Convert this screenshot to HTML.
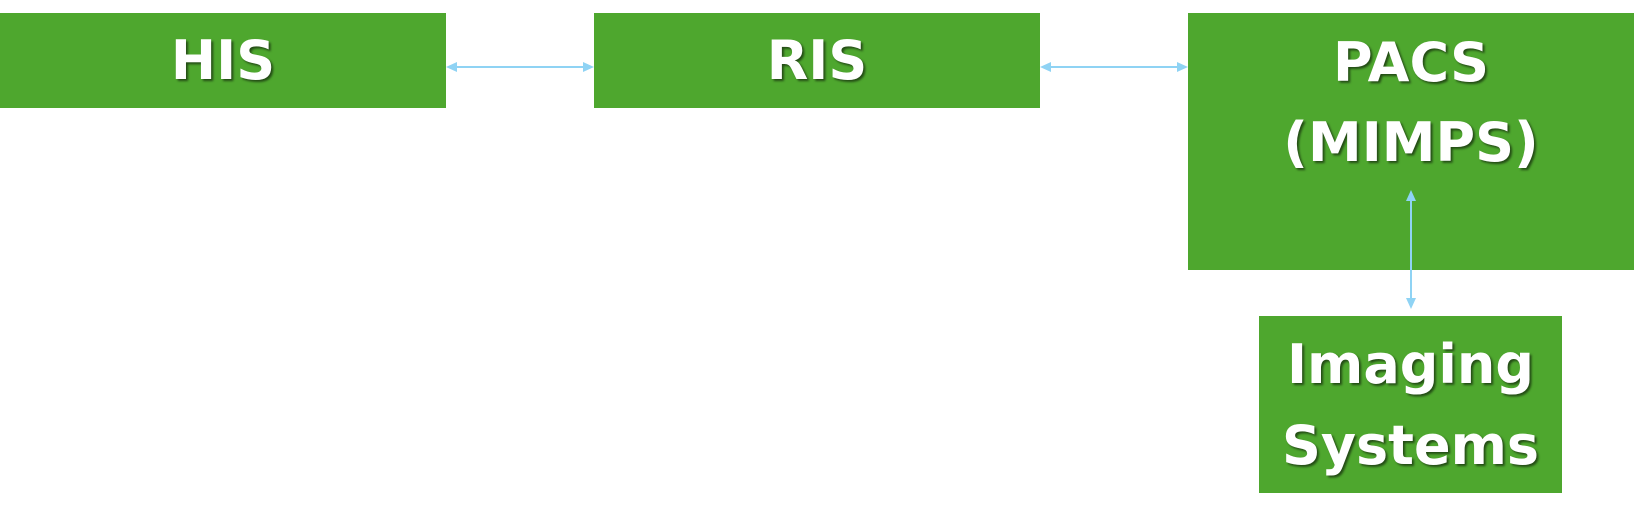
<!DOCTYPE html>
<html><head><style>
body{margin:0;width:1634px;height:531px;background:#fff;position:relative;overflow:hidden;font-family:"DejaVu Sans","Liberation Sans",sans-serif;}
.b{position:absolute;background:#4ea72e;color:#fff;font-weight:bold;font-size:54px;text-align:center;text-shadow:2px 2px 2px rgba(0,0,0,0.55);}
.t{position:absolute;left:0;right:0;line-height:80px;}
</style></head><body>
<div class="b" style="left:0;top:13px;width:446px;height:95px;"><div class="t" style="top:8px">HIS</div></div>
<div class="b" style="left:594px;top:13px;width:446px;height:95px;"><div class="t" style="top:8px">RIS</div></div>
<div class="b" style="left:1188px;top:13px;width:446px;height:257px;"><div class="t" style="top:10px">PACS</div><div class="t" style="top:90px">(MIMPS)</div></div>
<div class="b" style="left:1259px;top:316px;width:303px;height:177px;"><div class="t" style="top:9px">Imaging</div><div class="t" style="top:90px">Systems</div></div>
<svg width="1634" height="531" style="position:absolute;left:0;top:0">
<g stroke="#8fd3f4" stroke-width="2" fill="#8fd3f4">
<line x1="452" y1="67" x2="588" y2="67"/>
<polygon points="446,67 457,62 457,72" stroke="none"/>
<polygon points="594,67 583,62 583,72" stroke="none"/>
<line x1="1046" y1="67" x2="1182" y2="67"/>
<polygon points="1040,67 1051,62 1051,72" stroke="none"/>
<polygon points="1188,67 1177,62 1177,72" stroke="none"/>
<line x1="1411" y1="196" x2="1411" y2="303"/>
<polygon points="1411,190 1406,201 1416,201" stroke="none"/>
<polygon points="1411,309 1406,298 1416,298" stroke="none"/>
</g></svg>
</body></html>
